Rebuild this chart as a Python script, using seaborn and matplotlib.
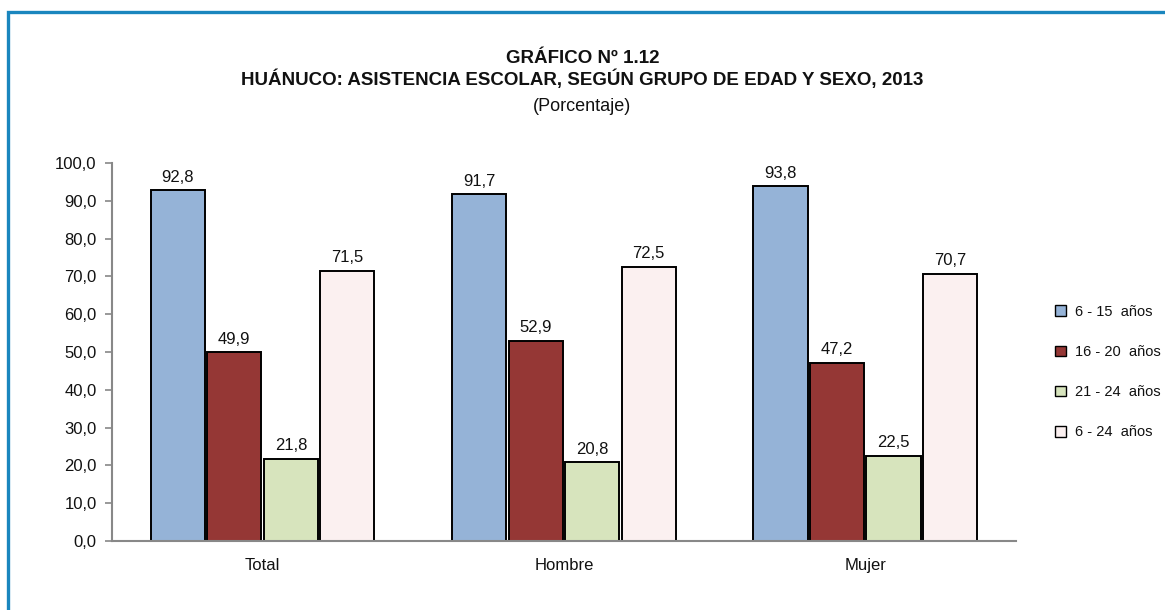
import pandas as pd
import matplotlib.pyplot as plt
import matplotlib.patches as mpatches
import seaborn as sns

# Chart data
GRUPOS = ['Total', 'Hombre', 'Mujer']
EDADES = ['6 - 15  años', '16 - 20  años', '21 - 24  años', '6 - 24  años']
V_6_15 = [92.8, 91.7, 93.8]
V_16_20 = [49.9, 52.9, 47.2]
V_21_24 = [21.8, 20.8, 22.5]
V_6_24 = [71.5, 72.5, 70.7]
COLORES = ['#95B3D7', '#953735', '#D7E4BD', '#FBF0F0']

TITULO = 'GRÁFICO Nº 1.12\nHUÁNUCO: ASISTENCIA ESCOLAR, SEGÚN GRUPO DE EDAD Y SEXO, 2013'
SUBTITULO = '(Porcentaje)'


def main():
    rows = []
    for edad, vals in zip(EDADES, [V_6_15, V_16_20, V_21_24, V_6_24]):
        for g, v in zip(GRUPOS, vals):
            rows.append({'grupo': g, 'edad': edad, 'valor': v})
    df = pd.DataFrame(rows)

    sns.set_style('white')
    plt.rcParams['font.family'] = ['Liberation Sans', 'DejaVu Sans']

    fig = plt.figure(figsize=(11.65, 6.10), dpi=100)
    ax = fig.add_axes([0.0961, 0.1131, 0.7759, 0.6197])

    sns.barplot(data=df, x='grupo', y='valor', hue='edad', hue_order=EDADES,
                order=GRUPOS, palette=COLORES, saturation=1, edgecolor='black',
                linewidth=1.4, width=0.75, gap=0.04, ax=ax, legend=True)

    for cont in ax.containers:
        labels = [f'{b.get_height():.1f}'.replace('.', ',') for b in cont]
        ax.bar_label(cont, labels=labels, padding=4, fontsize=12, color='#111111')

    ax.set_ylim(0, 100)
    ax.set_xlim(-0.5, 2.5)
    ax.set_yticks(range(0, 101, 10))
    ax.set_yticklabels([f'{t},0' for t in range(0, 101, 10)], fontsize=12, color='#111111')
    ax.set_xticks(range(3))
    ax.set_xticklabels(GRUPOS, fontsize=12, color='#111111')
    ax.set_xticks([-0.5, 0.5, 1.5, 2.5], minor=True)
    ax.tick_params(axis='x', which='major', length=0, pad=12)
    ax.tick_params(axis='x', which='minor', length=6, width=1.2, color='#888888', direction='out')
    ax.tick_params(axis='y', length=5, width=1.2, color='#888888', direction='out', left=True, pad=6)
    ax.set_xlabel('')
    ax.set_ylabel('')
    for s in ['top', 'right']:
        ax.spines[s].set_visible(False)
    for s in ['left', 'bottom']:
        ax.spines[s].set_color('#888888')
        ax.spines[s].set_linewidth(1.5)

    leg = ax.legend(loc='upper left', bbox_to_anchor=(0.901, 0.51),
                    bbox_transform=fig.transFigure, frameon=False, fontsize=10.5,
                    handlelength=0.75, handleheight=0.75, labelspacing=1.8,
                    handletextpad=0.6, borderaxespad=0)
    for h in leg.legend_handles:
        h.set_linewidth(1.0)
    for t in leg.get_texts():
        t.set_color('#111111')

    fig.text(0.5, 0.886, TITULO, ha='center', va='center', fontsize=13.5,
             fontweight='bold', linespacing=1.15, color='#111111')
    fig.text(0.5, 0.826, SUBTITULO, ha='center', va='center', fontsize=13,
             color='#111111')

    # blue frame
    frame = mpatches.Rectangle((8 / 1165, -0.2), 1.2, 1.2 - 12 / 610,
                               transform=fig.transFigure, fill=False,
                               edgecolor='#1A86BE', linewidth=2.4, clip_on=False)
    fig.patches.append(frame)

    fig.savefig('out.png', dpi=100)


if __name__ == '__main__':
    main()
